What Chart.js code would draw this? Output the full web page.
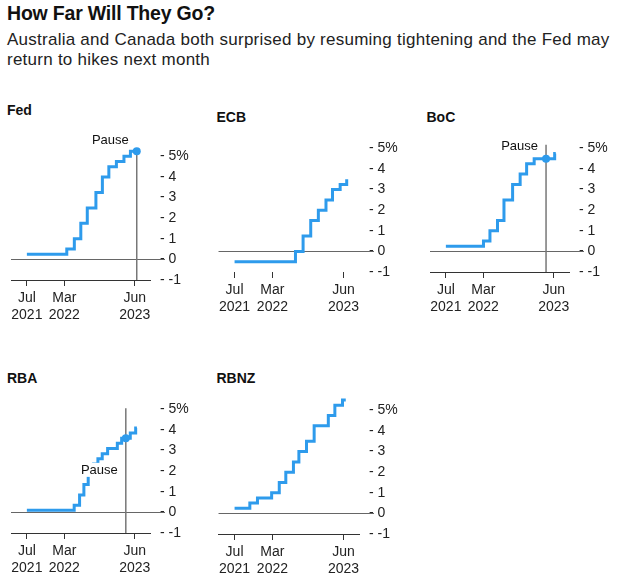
<!DOCTYPE html>
<html>
<head>
<meta charset="utf-8">
<script src="https://cdn.jsdelivr.net/npm/chart.js@4.4.0/dist/chart.umd.min.js"></script>
<style>
  body { margin: 0; background: #fff; font-family: 'Liberation Sans', Arial, sans-serif; color: #111; }
  #wrap { position: relative; width: 622px; height: 582px; overflow: hidden; }
  .h1 { position: absolute; left: 7px; top: 2px; font-size: 19.5px; font-weight: bold; line-height: 1.2; letter-spacing: -0.2px; }
  .sub { position: absolute; left: 7px; top: 30px; font-size: 17px; line-height: 20px; letter-spacing: 0.25px; color: #222; white-space: nowrap; }
  .ptitle { position: absolute; font-size: 14px; font-weight: bold; line-height: 14px; }
  canvas { position: absolute; }
</style>
</head>
<body>
<div id="wrap">
  <div class="h1">How Far Will They Go?</div>
  <div class="sub">Australia and Canada both surprised by resuming tightening and the Fed may<br>return to hikes next month</div>
</div>
<script>
// policy rates, % (date of change, new level)
const fedDates = ['2021-07-01', '2022-03-17', '2022-05-05', '2022-06-16', '2022-07-28', '2022-09-22', '2022-11-03', '2022-12-15', '2023-02-02', '2023-03-23', '2023-05-04', '2023-06-14']
const fedRates = [0.25, 0.5, 1.0, 1.75, 2.5, 3.25, 4.0, 4.5, 4.75, 5.0, 5.25, 5.25]

const ecbDates = ['2021-07-01', '2022-07-27', '2022-09-14', '2022-11-02', '2022-12-21', '2023-02-08', '2023-03-22', '2023-05-10', '2023-06-21']
const ecbRates = [-0.5, 0, 0.75, 1.5, 2.0, 2.5, 3.0, 3.25, 3.5]

const bocDates = ['2021-07-01', '2022-03-02', '2022-04-13', '2022-06-01', '2022-07-13', '2022-09-07', '2022-10-26', '2022-12-07', '2023-01-25', '2023-06-07', '2023-06-14']
const bocRates = [0.25, 0.5, 1.0, 1.5, 2.5, 3.25, 3.75, 4.25, 4.5, 4.75, 4.75]

const rbaDates = ['2021-07-01', '2022-05-04', '2022-06-08', '2022-07-06', '2022-08-03', '2022-09-07', '2022-10-05', '2022-11-02', '2022-12-07', '2023-02-08', '2023-03-08', '2023-05-03', '2023-06-07', '2023-06-15']
const rbaRates = [0.1, 0.35, 0.85, 1.35, 1.85, 2.35, 2.6, 2.85, 3.1, 3.35, 3.6, 3.85, 4.1, 4.1]

const rbnzDates = ['2021-07-01', '2021-10-07', '2021-11-25', '2022-02-24', '2022-04-14', '2022-05-26', '2022-07-14', '2022-08-18', '2022-10-06', '2022-11-24', '2023-02-23', '2023-04-06', '2023-05-25', '2023-06-15']
const rbnzRates = [0.25, 0.5, 0.75, 1.0, 1.5, 2.0, 2.5, 3.0, 3.5, 4.25, 4.75, 5.25, 5.5, 5.5]

// pause markers: date, rate at the pause
const pauseFed = { date: '2023-06-14', value: 5.25 }
const pauseBoc = { date: '2023-04-12', value: 4.5 }
const pauseRba = { date: '2023-04-04', value: 3.6 }

const xTickDates = ['2021-07-01', '2022-03-01', '2023-06-01']
const xTickLabels = [['Jul', '2021'], ['Mar', '2022'], ['Jun', '2023']]
const yTicks = [-1, 0, 1, 2, 3, 4, 5]

const X_MIN = '2021-03-20'
const X_MAX = '2023-09-08'
const Y_MIN = -1
const Y_MAX = 5.6

const BLUE = '#2e9bec'
Chart.defaults.font.family = "'Liberation Sans', Arial, sans-serif"
Chart.defaults.font.size = 14
Chart.defaults.color = '#222'

function day(s) {
  return Date.parse(s) / 86400000
}

// chart area sizes (px) and fixed axis sizes
const AREA_W = 143, AREA_H = 136, PAD_TOP = 30, YAXIS_W = 45, XAXIS_H = 45

const panels = [
  { title: 'Fed', dates: fedDates, rates: fedRates, left: 7, bottom: 280, titleTop: 103, axisLine: true,
    pause: pauseFed, lineTop: 5.25, labelAt: 5.62, labelBg: false },
  { title: 'ECB', dates: ecbDates, rates: ecbRates, left: 215.5, bottom: 272, titleTop: 110, axisLine: false },
  { title: 'BoC', dates: bocDates, rates: bocRates, left: 425.5, bottom: 272, titleTop: 110, axisLine: true,
    pause: pauseBoc, lineTop: 5.18, labelAt: 4.9, labelBg: false },
  { title: 'RBA', dates: rbaDates, rates: rbaRates, left: 7, bottom: 532.5, titleTop: 371, axisLine: true,
    pause: pauseRba, lineTop: 5.05, labelAt: 1.87, labelBg: true },
  { title: 'RBNZ', dates: rbnzDates, rates: rbnzRates, left: 215.5, bottom: 533.5, titleTop: 371, axisLine: true },
]

const zeroLine = {
  id: 'zeroLine',
  beforeDatasetsDraw(chart, args, opts) {
    const { ctx, chartArea, scales } = chart
    const y = Math.round(scales.y.getPixelForValue(0)) + 0.5
    ctx.save()
    ctx.strokeStyle = '#666'
    ctx.lineWidth = 1
    ctx.beginPath()
    ctx.moveTo(chartArea.left, y)
    ctx.lineTo(chartArea.right + 15, y)
    ctx.stroke()
    const p = opts.panel
    if (p.pause) {
      const x = scales.x.getPixelForValue(day(p.pause.date))
      ctx.strokeStyle = '#777'
      ctx.lineWidth = 1.5
      ctx.beginPath()
      ctx.moveTo(x, scales.y.getPixelForValue(p.lineTop))
      ctx.lineTo(x, chartArea.bottom)
      ctx.stroke()
    }
    ctx.restore()
  },
  afterDatasetsDraw(chart, args, opts) {
    const p = opts.panel
    if (!p.pause) return
    const { ctx, scales } = chart
    const x = scales.x.getPixelForValue(day(p.pause.date)) - 8
    const y = scales.y.getPixelForValue(p.labelAt)
    ctx.save()
    ctx.font = "13px 'Liberation Sans', Arial, sans-serif"
    ctx.textAlign = 'right'
    ctx.textBaseline = 'alphabetic'
    if (p.labelBg) {
      const w = ctx.measureText('Pause').width
      ctx.fillStyle = '#fff'
      ctx.fillRect(x - w - 1, y - 11, w + 2, 14)
    }
    ctx.fillStyle = '#111'
    ctx.fillText('Pause', x, y)
    ctx.restore()
  }
}

const wrap = document.getElementById('wrap')

panels.forEach(p => {
  const t = document.createElement('div')
  t.className = 'ptitle'
  t.style.left = (p.title === 'Fed' || p.title === 'RBA' ? 7 : p.left + 1) + 'px'
  t.style.top = p.titleTop + 'px'
  t.textContent = p.title
  wrap.appendChild(t)

  const el = document.createElement('canvas')
  const w = AREA_W + YAXIS_W, h = PAD_TOP + AREA_H + XAXIS_H
  el.width = w
  el.height = h
  el.style.width = w + 'px'
  el.style.height = h + 'px'
  el.style.left = p.left + 'px'
  el.style.top = (p.bottom - AREA_H - PAD_TOP) + 'px'
  wrap.appendChild(el)

  const datasets = [{
    data: p.dates.map((d, i) => ({ x: day(d), y: p.rates[i] })),
    borderColor: BLUE,
    borderWidth: 3,
    stepped: 'before',
    pointRadius: 0,
    borderJoinStyle: 'miter',
    fill: false,
  }]
  if (p.pause) {
    datasets.push({
      data: [{ x: day(p.pause.date), y: p.pause.value }],
      showLine: false,
      pointRadius: 4,
      pointBackgroundColor: BLUE,
      pointBorderWidth: 0,
    })
  }

  new Chart(el.getContext('2d'), {
    type: 'line',
    data: { datasets },
    plugins: [zeroLine],
    options: {
      responsive: false,
      animation: false,
      devicePixelRatio: 1,
      layout: { padding: { top: PAD_TOP, left: 0, right: 0, bottom: 0 } },
      plugins: { legend: { display: false }, tooltip: { enabled: false }, zeroLine: { panel: p } },
      scales: {
        x: {
          type: 'linear',
          min: day(X_MIN),
          max: day(X_MAX),
          afterBuildTicks: s => { s.ticks = xTickDates.map(d => ({ value: day(d) })) },
          afterFit: s => { s.height = XAXIS_H },
          ticks: {
            autoSkip: false,
            maxRotation: 0,
            padding: 3,
            font: { size: 14, lineHeight: 1.25 },
            callback: (v, i) => xTickLabels[i],
          },
          grid: { display: true, drawOnChartArea: false, drawTicks: true, tickLength: 6, color: '#333' },
          border: { display: p.axisLine, color: '#333', width: 1 },
        },
        y: {
          position: 'right',
          min: Y_MIN,
          max: Y_MAX,
          afterBuildTicks: s => { s.ticks = yTicks.map(v => ({ value: v })) },
          afterFit: s => { s.width = YAXIS_W },
          ticks: {
            padding: 10,
            callback: v => '- ' + v + (v === 5 ? '%' : ''),
          },
          grid: { display: false, drawTicks: false },
          border: { display: false },
        }
      }
    }
  })
})
</script>
</body>
</html>
